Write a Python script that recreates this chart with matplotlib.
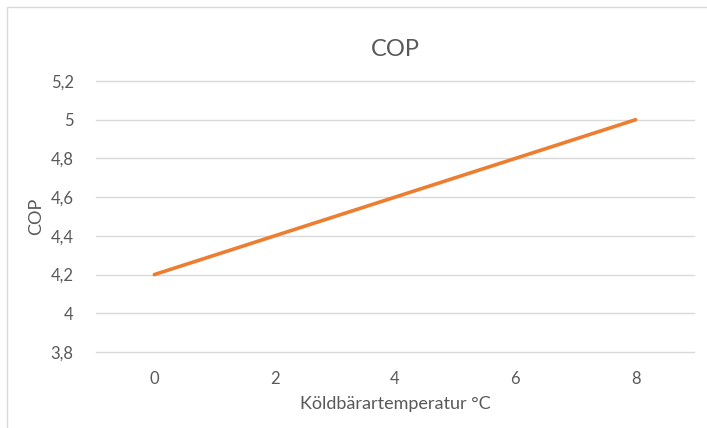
import matplotlib
matplotlib.use('Agg')
import matplotlib.pyplot as plt
from matplotlib.patches import Rectangle

# data
temp = [0, 2, 4, 6, 8]
cop = [4.2, 4.4, 4.6, 4.8, 5.0]
yticks = [3.8, 4.0, 4.2, 4.4, 4.6, 4.8, 5.0, 5.2]
ytick_labels = ['3,8', '4', '4,2', '4,4', '4,6', '4,8', '5', '5,2']
xticks = [0, 2, 4, 6, 8]

plt.rcParams['font.family'] = ['Lato', 'DejaVu Sans']
txt = '#595959'

fig = plt.figure(figsize=(7.07, 4.28), dpi=100)
W, H = 707, 428
ax = fig.add_axes([96 / W, 1 - 352 / H, (694 - 96) / W, (352 - 81) / H])

ax.plot(temp, cop, color='#ED7D31', linewidth=2.6, solid_capstyle='round')

ax.set_xlim(-0.97, 8.97)
ax.set_ylim(3.8, 5.2)
ax.set_yticks(yticks)
ax.set_yticklabels(ytick_labels)
ax.set_xticks(xticks)
ax.grid(axis='y', color='#D9D9D9', linewidth=1)
for l in ax.get_ygridlines():
    l.set_clip_on(False)
ax.set_axisbelow(True)
for s in ax.spines.values():
    s.set_visible(False)
ax.tick_params(length=0, labelsize=12, colors=txt)
ax.tick_params(axis='y', pad=16)
ax.tick_params(axis='x', pad=14)

ax.set_title('COP', fontsize=17, color=txt, pad=18)
ax.set_xlabel('Köldbärartemperatur °C', fontsize=13, color=txt)
ax.xaxis.set_label_coords(0.5, -0.162)
ax.set_ylabel('COP', fontsize=13, color=txt)
ax.yaxis.set_label_coords(-0.086, 0.5)

# chart frame
fig.patches.append(Rectangle((7 / W, -0.1), 1.1, 1 - 7 / H + 0.1, transform=fig.transFigure,
                             fill=False, edgecolor='#D9D9D9', linewidth=1))

fig.savefig('out.png', dpi=100)
